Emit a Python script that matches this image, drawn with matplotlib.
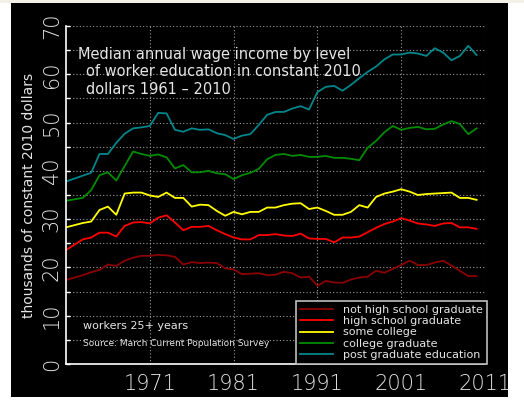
import numpy as np
import matplotlib
matplotlib.use("Agg")
import matplotlib.pyplot as plt
from matplotlib.patches import Rectangle

# years (1962 not in the survey series)
years = [1961] + list(range(1963, 2011))

not_hs = [17.4, 18.4, 19.0, 19.5, 20.6, 20.3, 21.4, 22.0, 22.4, 22.4,
          22.6, 22.5, 22.2, 20.6, 21.1, 20.9, 21.0, 20.9, 19.8, 19.6,
          18.6, 18.7, 18.8, 18.4, 18.5, 19.1, 18.8, 17.9, 18.1, 16.2,
          17.2, 16.9, 16.8, 17.5, 17.9, 18.1, 19.3, 18.9, 19.7, 20.5,
          21.4, 20.5, 20.5, 21.0, 21.4, 20.4, 19.3, 18.2, 18.2]
hs_grad = [23.6, 25.8, 26.2, 27.2, 27.2, 26.4, 28.6, 29.3, 29.4, 29.1,
           30.3, 30.8, 29.3, 27.7, 28.4, 28.4, 28.6, 27.7, 26.9, 26.2,
           25.8, 25.8, 26.7, 26.7, 26.9, 26.6, 26.5, 27.0, 26.0, 25.9,
           25.9, 25.2, 26.2, 26.2, 26.4, 27.3, 28.2, 29.0, 29.5, 30.2,
           29.7, 29.1, 28.9, 28.6, 29.1, 29.2, 28.3, 28.3, 28.0]
some_college = [28.3, 29.2, 29.5, 31.9, 32.6, 30.9, 35.3, 35.5, 35.5, 34.9,
                34.6, 35.5, 34.4, 34.4, 32.6, 33.0, 32.9, 31.7, 30.7, 31.5,
                31.0, 31.5, 31.5, 32.4, 32.4, 32.9, 33.2, 33.3, 32.1, 32.4,
                31.7, 30.9, 30.9, 31.5, 32.9, 32.4, 34.6, 35.3, 35.7, 36.2,
                35.7, 35.0, 35.2, 35.3, 35.4, 35.5, 34.4, 34.4, 34.0]
college = [33.8, 34.4, 36.0, 39.1, 39.7, 38.0, 41.0, 44.0, 43.5, 43.1,
           43.4, 42.8, 40.5, 41.2, 39.7, 39.7, 40.0, 39.5, 39.3, 38.3,
           39.1, 39.6, 40.4, 42.4, 43.3, 43.5, 43.1, 43.3, 42.9, 42.9,
           43.1, 42.7, 42.7, 42.5, 42.2, 44.8, 46.2, 48.0, 49.3, 48.5,
           48.9, 49.1, 48.6, 48.7, 49.6, 50.3, 49.7, 47.6, 48.8]
post_grad = [37.8, 39.0, 39.6, 43.5, 43.5, 45.8, 47.7, 48.8, 49.0, 49.3,
             52.0, 51.9, 48.5, 48.1, 48.8, 48.5, 48.6, 47.8, 47.4, 46.6,
             47.3, 47.6, 49.5, 51.6, 52.2, 52.2, 52.9, 53.4, 52.7, 56.3,
             57.4, 57.6, 56.6, 57.8, 59.2, 60.5, 61.6, 63.1, 64.1, 64.1,
             64.5, 64.3, 63.8, 65.4, 64.5, 62.9, 63.8, 65.9, 64.0]

series = [
    ("not high school graduate", not_hs, "#8b0000"),
    ("high school graduate", hs_grad, "#ff0000"),
    ("some college", some_college, "#ffff00"),
    ("college graduate", college, "#008c00"),
    ("post graduate education", post_grad, "#00868b"),
]

txt = "#e6e6e6"
W, H = 524, 404
fig = plt.figure(figsize=(W / 100, H / 100), dpi=100, facecolor="white")
fig.patches.append(Rectangle((0, (H - 3) / H), 1, 3 / H, transform=fig.transFigure,
                             facecolor="#f3f0e8", edgecolor="none", zorder=-10))
fig.patches.append(Rectangle((11 / W, (H - 397) / H), (508 - 11) / W, (397 - 3) / H,
                             transform=fig.transFigure, facecolor="black",
                             edgecolor="none", zorder=-10))

ax = fig.add_axes([66 / W, (H - 364) / H, (485 - 66) / W, (364 - 26) / H])
ax.set_facecolor("black")

for name, vals, col in series:
    ax.plot(years, vals, color=col, lw=1.3, label=name)

ax.set_xlim(1961, 2011)
ax.set_ylim(0, 70)
ax.set_xticks([1971, 1981, 1991, 2001, 2011])
ax.set_yticks(range(0, 71, 10))
ax.set_yticks(range(5, 70, 10), minor=True)
ax.grid(True, which="both", color="#9a9a9a", ls=(0, (1, 2)), lw=0.8)
ax.xaxis.grid(True, which="major")
ax.tick_params(axis="x", which="both", length=0, pad=7, colors=txt, labelsize=15)
ax.tick_params(axis="y", which="both", direction="in", length=3, width=1,
               color="white", labelcolor=txt, labelsize=15, pad=3)
for lab in ax.get_yticklabels():
    lab.set_rotation(90)
    lab.set_va("center")
for t in ax.get_xticklabels() + ax.get_yticklabels():
    t.set_fontweight("light")
for s in ["top", "right"]:
    ax.spines[s].set_visible(False)
for s in ["left", "bottom"]:
    ax.spines[s].set_color("white")
    ax.spines[s].set_linewidth(1.2)

fig.text(29 / W, 1 - 195 / H, "thousands of constant 2010 dollars", rotation=90,
         ha="center", va="center", color=txt, fontsize=10)

ax.text(78 / W, 1 - 55 / H, "Median annual wage income by level",
        transform=fig.transFigure, color=txt, fontsize=10.5, va="center")
ax.text(86 / W, 1 - 72 / H, "of worker education in constant 2010",
        transform=fig.transFigure, color=txt, fontsize=10.5, va="center")
ax.text(86 / W, 1 - 89 / H, "dollars 1961 \u2013 2010",
        transform=fig.transFigure, color=txt, fontsize=10.5, va="center")
ax.text(83 / W, 1 - 326 / H, "workers 25+ years",
        transform=fig.transFigure, color=txt, fontsize=8, va="center")
ax.text(83 / W, 1 - 343 / H, "Source: March Current Population Survey",
        transform=fig.transFigure, color=txt, fontsize=6.5, va="center")

leg = ax.legend(loc="lower right", bbox_to_anchor=(1.004, 0.0), borderaxespad=0,
                fontsize=8, frameon=True, fancybox=False, framealpha=1,
                facecolor="black", edgecolor="#bdbdbd", handlelength=3,
                handletextpad=0.9, labelspacing=0.12, borderpad=0.35)
leg.get_frame().set_linewidth(1.2)
for t in leg.get_texts():
    t.set_color(txt)

fig.savefig("out.png", dpi=100, facecolor="white")
